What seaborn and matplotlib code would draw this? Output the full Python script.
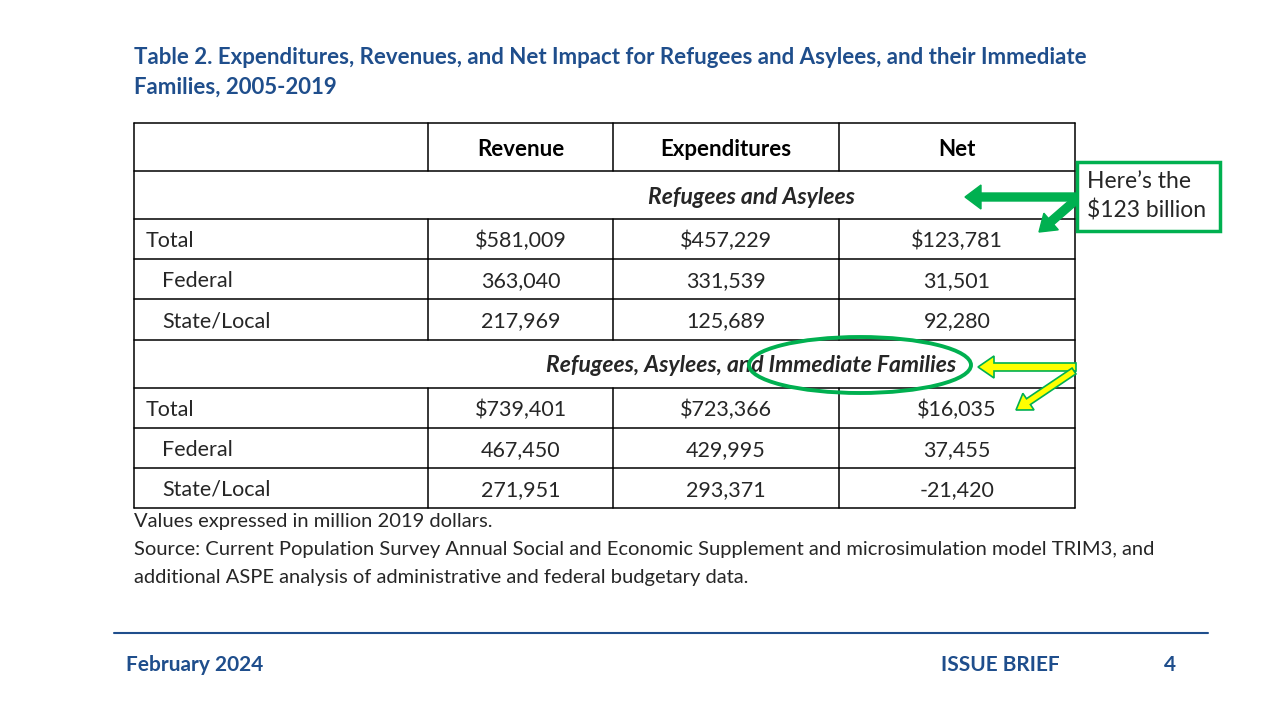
import numpy as np
import matplotlib.pyplot as plt
import seaborn as sns
from matplotlib.patches import Rectangle, Ellipse, FancyArrow

sns.set_theme(style="white")
plt.rcParams["font.family"] = ["Lato", "DejaVu Sans"]

# table data (million 2019 dollars)
columns = ["Revenue", "Expenditures", "Net"]
sections = ["Refugees and Asylees", "Refugees, Asylees, and Immediate Families"]
row_labels = ["Total", "Federal", "State/Local"]
ref_revenue = [581009, 363040, 217969]
ref_expend = [457229, 331539, 125689]
ref_net = [123781, 31501, 92280]
fam_revenue = [739401, 467450, 271951]
fam_expend = [723366, 429995, 293371]
fam_net = [16035, 37455, -21420]

title = ("Table 2. Expenditures, Revenues, and Net Impact for Refugees and Asylees, and their Immediate\n"
         "Families, 2005-2019")
note1 = "Values expressed in million 2019 dollars."
note2 = ("Source: Current Population Survey Annual Social and Economic Supplement and microsimulation model TRIM3, and\n"
         "additional ASPE analysis of administrative and federal budgetary data.")

blue = "#1f4e8c"
green = "#00b050"
yellow = "#ffff00"

fig = plt.figure(figsize=(12.8, 7.2), dpi=100)
ax = fig.add_axes([0, 0, 1, 1])
ax.set_xlim(0, 1280)
ax.set_ylim(720, 0)
ax.axis("off")

# title
ax.text(134, 58, title.split("\n")[0], fontsize=16, fontweight="bold", color=blue,
        va="center", ha="left")
ax.text(134, 87, title.split("\n")[1], fontsize=16, fontweight="bold", color=blue,
        va="center", ha="left")

# grid layout
col_x = [134, 428, 613, 839, 1075]
row_y = [123, 171, 219, 259, 299, 340, 388, 428, 468, 508]
lw = 1.1
for y in row_y:
    ax.plot([col_x[0], col_x[-1]], [y, y], color="black", lw=lw)
ax.plot([col_x[0], col_x[0]], [row_y[0], row_y[-1]], color="black", lw=lw)
ax.plot([col_x[-1], col_x[-1]], [row_y[0], row_y[-1]], color="black", lw=lw)
for x in col_x[1:-1]:
    for i in range(len(row_y) - 1):
        if i in (1, 5):
            continue  # section rows span the value columns
        ax.plot([x, x], [row_y[i], row_y[i + 1]], color="black", lw=lw)


def mid(a, b):
    return (a + b) / 2 + 2


fs = 15.5
for j, c in enumerate(columns):
    ax.text(mid(col_x[j + 1], col_x[j + 2]) - 2, mid(row_y[0], row_y[1]), c,
            fontsize=16, fontweight="bold", ha="center", va="center", color="black")


def fmt(v, dollar):
    s = f"{abs(v):,}"
    if dollar:
        s = "$" + s
    return ("-" if v < 0 else "") + s


blocks = [(sections[0], ref_revenue, ref_expend, ref_net, 1),
          (sections[1], fam_revenue, fam_expend, fam_net, 5)]
for name, rev, exp, net, r0 in blocks:
    ax.text(mid(col_x[1], col_x[-1]) - 2, mid(row_y[r0], row_y[r0 + 1]), name,
            fontsize=16.5, fontweight="bold", fontstyle="italic", ha="center", va="center")
    for k, lab in enumerate(row_labels):
        r = r0 + 1 + k
        yc = mid(row_y[r], row_y[r + 1])
        ax.text(col_x[0] + (12 if k == 0 else 28), yc, lab, fontsize=fs, ha="left", va="center")
        for j, vals in enumerate([rev, exp, net]):
            ax.text(mid(col_x[j + 1], col_x[j + 2]) - 2, yc, fmt(vals[k], k == 0),
                    fontsize=fs, ha="center", va="center")

# notes
ax.text(134, 522, note1, fontsize=14.5, ha="left", va="center")
ax.text(134, 549, note2.split("\n")[0], fontsize=14.5, ha="left", va="center")
ax.text(134, 577, note2.split("\n")[1], fontsize=14.5, ha="left", va="center")

# footer
ax.plot([114, 1208], [633, 633], color=blue, lw=1.5)
ax.text(126, 665, "February 2024", fontsize=15, fontweight="bold", color=blue, va="center")
ax.text(1000, 665, "ISSUE BRIEF", fontsize=15, fontweight="bold", color=blue, va="center", ha="center")
ax.text(1170, 665, "4", fontsize=15, fontweight="bold", color=blue, va="center", ha="center")

# callout box and arrows
ax.add_patch(Rectangle((1077, 162), 143, 69, fill=True, facecolor="white", edgecolor=green, lw=2.5, zorder=5))
ax.text(1087, 182, "Here\u2019s the", fontsize=16.5, ha="left", va="center", zorder=6)
ax.text(1087, 211, "$123 billion", fontsize=16.5, ha="left", va="center", zorder=6)
ax.add_patch(FancyArrow(1077, 197, -112, 0, width=8, head_width=24, head_length=16,
                        length_includes_head=True, color=green, zorder=4))
ax.add_patch(FancyArrow(1077, 199, -38, 33, width=8, head_width=22, head_length=16,
                        length_includes_head=True, color=green, zorder=4))

ax.add_patch(Ellipse((860, 365), 222, 56, fill=False, edgecolor=green, lw=2.8, zorder=4))
ax.add_patch(FancyArrow(1076, 367, -98, 0, width=8, head_width=22, head_length=16,
                        length_includes_head=True, facecolor=yellow, edgecolor=green, lw=1.2, zorder=4))
ax.add_patch(FancyArrow(1074, 371, -58, 39, width=7, head_width=20, head_length=15,
                        length_includes_head=True, facecolor=yellow, edgecolor=green, lw=1.2, zorder=4))

fig.savefig("out.png", dpi=100, facecolor="white")
